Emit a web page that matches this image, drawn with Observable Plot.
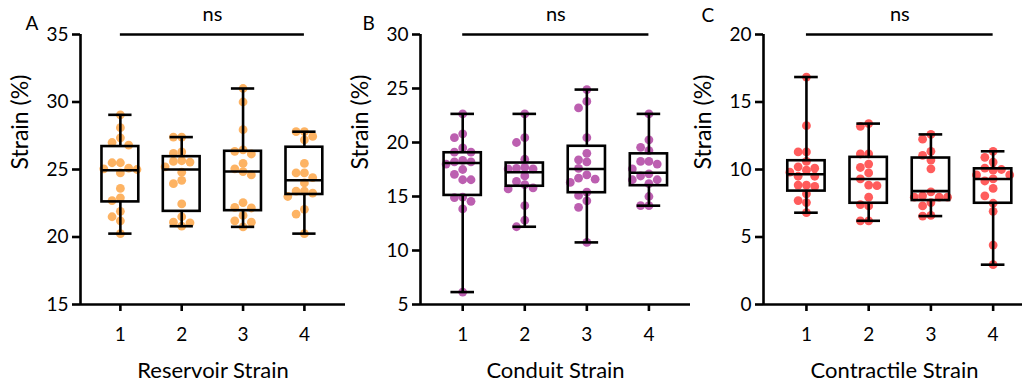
<!DOCTYPE html>
<html><head><meta charset="utf-8">
<script src="https://cdn.jsdelivr.net/npm/d3@7"></script>
<script src="https://cdn.jsdelivr.net/npm/@observablehq/plot@0.6"></script>
<style>
body{margin:0;background:#fff;}
#wrap{position:relative;width:1022px;height:384px;overflow:hidden;font-family:Lato,sans-serif;}
#wrap svg{position:absolute;top:0;overflow:visible;}
</style></head><body><div id="wrap"></div>
<script>
const groups = [1, 2, 3, 4];

// Reservoir strain (%) per group
const reservoirValues = [
  [29.05, 28.1, 27.35, 27.0, 26.8, 25.5, 25.5, 25.1, 25.05, 25.0, 24.75, 23.6, 22.9, 22.7, 21.9, 21.5, 21.2, 20.25],
  [27.4, 27.4, 26.3, 26.2, 25.65, 25.6, 25.55, 25.2, 24.8, 24.2, 23.95, 22.45, 21.5, 21.1, 21.05, 20.8],
  [31.0, 30.0, 27.95, 26.45, 26.35, 26.15, 25.45, 25.05, 24.85, 24.6, 22.55, 22.2, 22.15, 21.6, 21.2, 21.1, 20.75],
  [27.8, 27.8, 27.45, 27.2, 25.45, 24.75, 24.75, 24.4, 24.0, 23.4, 23.4, 23.25, 23.0, 22.05, 21.7, 20.25]
];
const reservoirQ1 = [22.6, 21.9, 21.95, 23.15];
const reservoirMedian = [24.95, 25.0, 24.85, 24.2];
const reservoirQ3 = [26.7, 25.95, 26.35, 26.65];

// Conduit strain (%) per group
const conduitValues = [
  [22.65, 20.8, 20.45, 19.5, 19.1, 19.1, 18.35, 18.2, 18.2, 18.0, 17.5, 17.05, 16.55, 16.55, 14.95, 14.9, 14.55, 13.85, 6.15],
  [22.65, 20.45, 20.0, 18.45, 17.7, 17.6, 17.55, 17.55, 16.9, 16.4, 16.1, 15.8, 15.7, 14.15, 12.8, 12.2],
  [24.9, 23.8, 23.2, 20.45, 19.0, 18.4, 18.2, 17.6, 17.0, 16.7, 16.6, 16.3, 15.4, 15.1, 14.6, 14.0, 10.75],
  [22.65, 20.25, 19.55, 19.25, 18.25, 18.25, 18.0, 17.55, 17.1, 16.9, 16.55, 16.55, 16.2, 15.0, 14.15, 14.15]
];
const conduitQ1 = [15.1, 15.95, 15.35, 16.0];
const conduitMedian = [18.1, 17.25, 17.55, 17.2];
const conduitQ3 = [19.05, 18.1, 19.65, 18.95];

// Contractile strain (%) per group
const contractileValues = [
  [16.85, 13.25, 11.3, 11.3, 10.6, 10.2, 10.1, 9.95, 9.8, 9.5, 9.5, 8.85, 8.85, 8.75, 8.2, 7.7, 7.55, 6.8],
  [13.4, 13.2, 11.15, 11.15, 10.4, 10.15, 9.75, 9.3, 8.85, 8.8, 7.95, 7.4, 7.3, 6.2, 6.2],
  [12.6, 12.25, 11.35, 11.05, 10.7, 10.05, 8.35, 8.05, 7.95, 7.95, 7.95, 7.55, 7.3, 6.6, 6.55],
  [11.35, 10.9, 10.55, 10.1, 10.0, 9.95, 9.6, 9.6, 9.3, 9.15, 8.6, 8.05, 7.5, 6.9, 4.4, 2.95]
];
const contractileQ1 = [8.4, 7.5, 7.7, 7.5];
const contractileMedian = [9.65, 9.3, 8.4, 9.3];
const contractileQ3 = [10.65, 10.9, 10.85, 10.05];

const reservoirTicks = [15, 20, 25, 30, 35];
const conduitTicks = [5, 10, 15, 20, 25, 30];
const contractileTicks = [0, 5, 10, 15, 20];

const panels = [
  {letter: "A", title: "Reservoir Strain", values: reservoirValues, q1: reservoirQ1, med: reservoirMedian, q3: reservoirQ3,
   ticks: reservoirTicks, color: "#fdb363", left: 0, marginLeft: 80, width: 345, xDomain: [0.35, 4.67], letterDx: -55, letterDy: -11},
  {letter: "B", title: "Conduit Strain", values: conduitValues, q1: conduitQ1, med: conduitMedian, q3: conduitQ3,
   ticks: conduitTicks, color: "#bc5fb0", left: 340, marginLeft: 80, width: 350, xDomain: [0.32, 4.67], letterDx: -58, letterDy: -11},
  {letter: "C", title: "Contractile Strain", values: contractileValues, q1: contractileQ1, med: contractileMedian, q3: contractileQ3,
   ticks: contractileTicks, color: "#ff5c5c", left: 680, marginLeft: 83, width: 345, xDomain: [0.31, 4.52], letterDx: -62, letterDy: -19}
];

const H = 384, MT = 34, MB = 80;
const LW = 2.6;
const wrap = document.getElementById("wrap");

for (const p of panels) {
  const yMin = d3.min(p.ticks), yMax = d3.max(p.ticks);
  const pxPerY = (H - MT - MB) / (yMax - yMin);
  const pxPerX = (p.width - p.marginLeft) / (p.xDomain[1] - p.xDomain[0]);
  const step = 8.3, minDist = 8.0;

  // beeswarm layout (computed, not typed)
  const dots = [];
  groups.forEach((g, i) => {
    const sorted = [...p.values[i]].sort((a, b) => b - a);
    const placed = [];
    for (const v of sorted) {
      const vy = v * pxPerY;
      let off = 0;
      for (let k = 0; k < 20; k++) {
        const cand = k === 0 ? 0 : (k % 2 ? -Math.ceil(k / 2) : Math.ceil(k / 2)) * step;
        const ok = placed.every(q => Math.hypot(q.ox - cand, q.vy - vy) >= minDist);
        if (ok) { off = cand; break; }
      }
      placed.push({ox: off, vy});
      dots.push({g, v, x: g + off / pxPerX});
    }
  });

  const boxes = groups.map((g, i) => ({
    g, q1: p.q1[i], med: p.med[i], q3: p.q3[i],
    lo: d3.min(p.values[i]), hi: d3.max(p.values[i])
  }));
  const bw = 0.3, cw = 0.19;

  const plot = Plot.plot({
    width: p.width, height: H,
    marginLeft: p.marginLeft, marginRight: 0, marginTop: MT, marginBottom: MB,
    style: {background: "transparent", overflow: "visible", fontFamily: "Lato, sans-serif", color: "#000"},
    x: {domain: p.xDomain},
    y: {domain: [yMin, yMax]},
    marks: [
      Plot.dot(dots, {x: "x", y: "v", r: 4.4, fill: p.color, stroke: "none"}),
      Plot.rect(boxes, {x1: d => d.g - bw, x2: d => d.g + bw, y1: "q1", y2: "q3", fill: "none", stroke: "#000", strokeWidth: LW}),
      Plot.ruleY(boxes, {y: "med", x1: d => d.g - bw, x2: d => d.g + bw, stroke: "#000", strokeWidth: LW}),
      Plot.ruleX(boxes, {x: "g", y1: "q3", y2: "hi", stroke: "#000", strokeWidth: LW}),
      Plot.ruleX(boxes, {x: "g", y1: "q1", y2: "lo", stroke: "#000", strokeWidth: LW}),
      Plot.ruleY(boxes, {y: "hi", x1: d => d.g - cw, x2: d => d.g + cw, stroke: "#000", strokeWidth: LW}),
      Plot.ruleY(boxes, {y: "lo", x1: d => d.g - cw, x2: d => d.g + cw, stroke: "#000", strokeWidth: LW}),
      // significance bracket
      Plot.ruleY([yMax], {x1: 1, x2: 4, stroke: "#000", strokeWidth: LW}),
      Plot.text(["ns"], {x: 2.5, y: yMax, dy: -20, fontSize: 20, lineAnchor: "middle", fill: "#000"}),
      // axes
      Plot.axisY({ticks: p.ticks, tickSize: 8, tickPadding: 4, fontSize: 19, strokeWidth: LW, label: null}),
      Plot.axisX({ticks: groups, tickSize: 7, tickPadding: 16, fontSize: 19, strokeWidth: LW, label: null, tickFormat: d => String(d)}),
      Plot.ruleX([p.xDomain[0]], {stroke: "#000", strokeWidth: LW}),
      Plot.ruleY([yMin], {stroke: "#000", strokeWidth: LW}),
      Plot.text(["Strain (%)"], {frameAnchor: "left", dx: -60, rotate: -90, fontSize: 23, lineAnchor: "middle", fill: "#000"}),
      Plot.text([p.title], {frameAnchor: "bottom", dy: 66, fontSize: 22, lineAnchor: "middle", fill: "#000"}),
      Plot.text([p.letter], {frameAnchor: "top-left", dx: p.letterDx, dy: p.letterDy, fontSize: 19, lineAnchor: "middle", fill: "#000"})
    ]
  });
  plot.style.left = p.left + "px";
  wrap.appendChild(plot);
}
</script>
</body></html>
